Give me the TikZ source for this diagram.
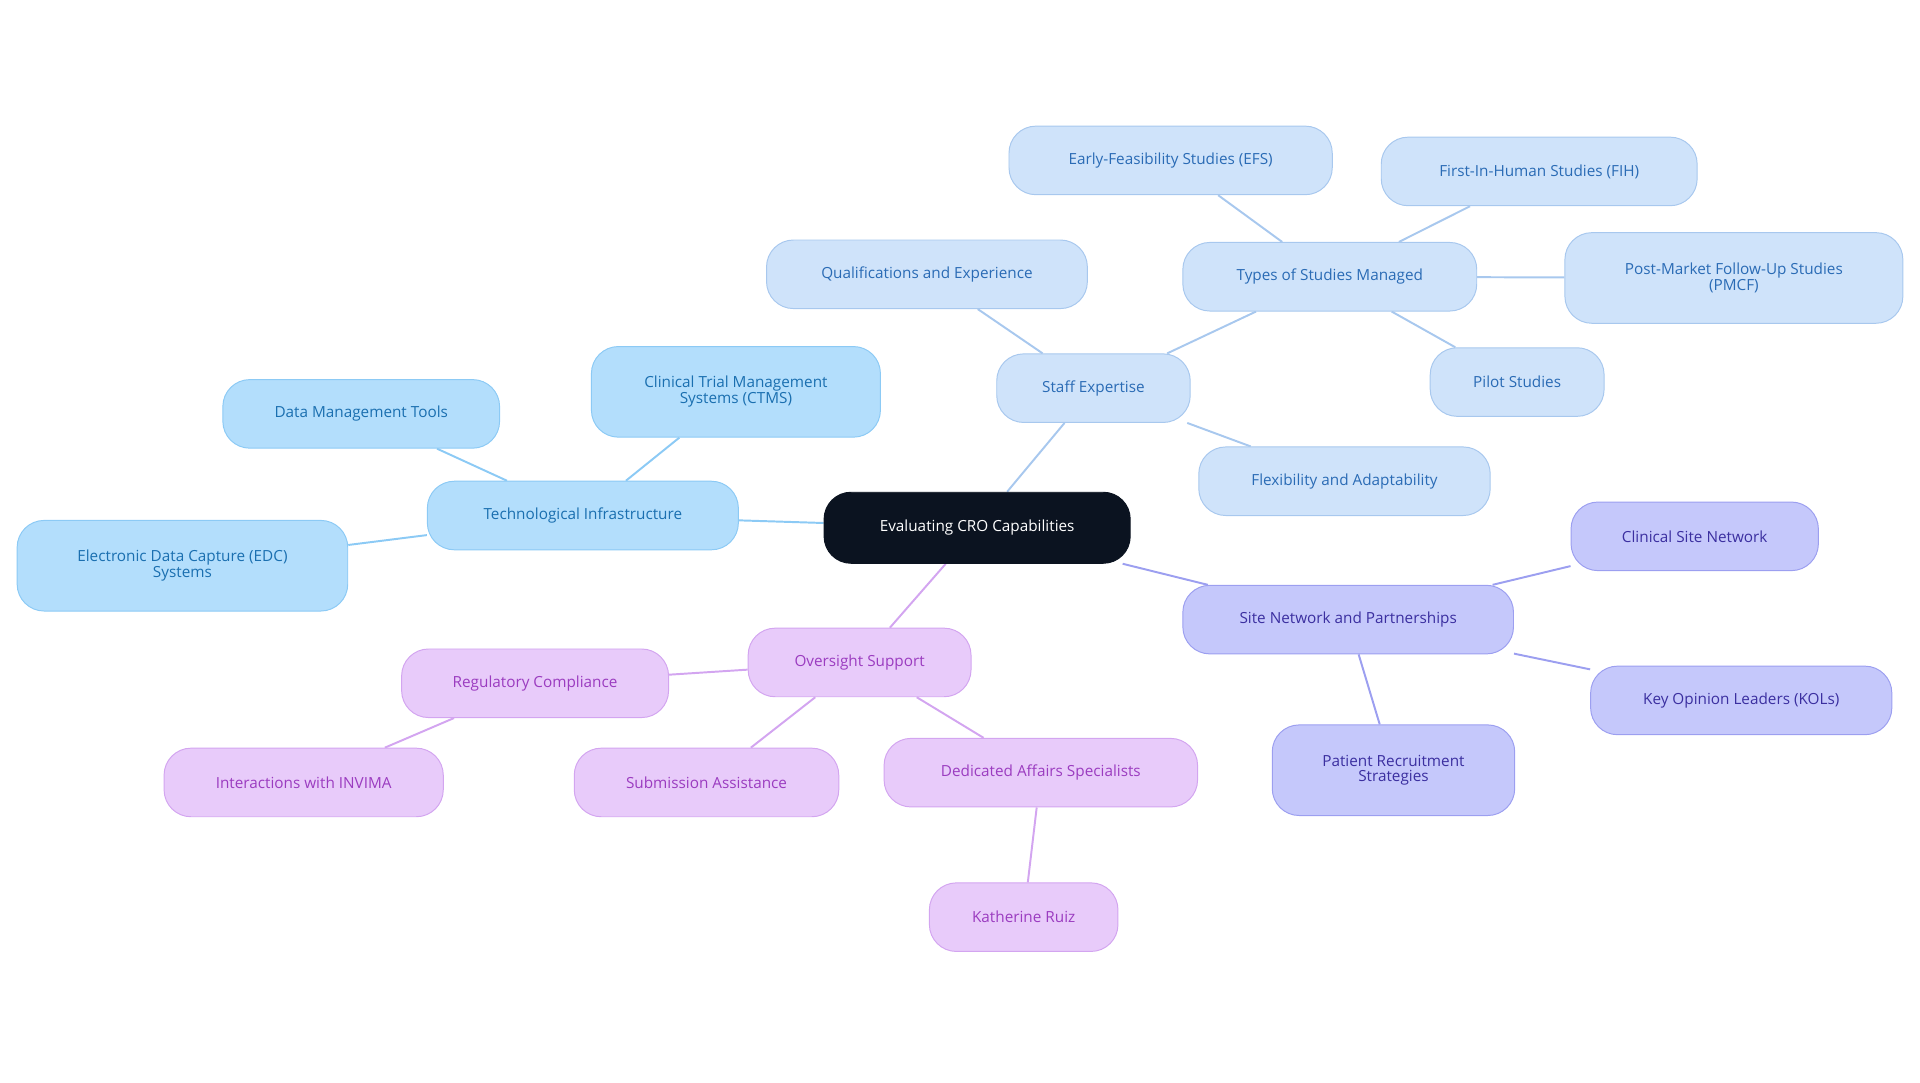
\documentclass[tikz,border=0pt]{standalone}
\usepackage{fontspec}
\setmainfont{Open Sans}
\usetikzlibrary{backgrounds}
\definecolor{tfill}{HTML}{B3DEFC}\definecolor{tdraw}{HTML}{8CCAF5}\definecolor{ttext}{HTML}{1A6FB0}
\definecolor{sfill}{HTML}{CFE3FA}\definecolor{sdraw}{HTML}{A8C8EE}\definecolor{stext}{HTML}{2A6BB5}
\definecolor{nfill}{HTML}{C5C8FB}\definecolor{ndraw}{HTML}{9C9FF0}\definecolor{ntext}{HTML}{3B2FA0}
\definecolor{ofill}{HTML}{E8CBFA}\definecolor{odraw}{HTML}{D3A5F0}\definecolor{otext}{HTML}{9B3CC0}
\definecolor{rootc}{HTML}{0B1320}
\tikzset{
 box/.style={rounded corners=22pt,line width=0.8pt,align=center,font=\fontsize{12.5}{12}\selectfont,inner sep=0pt,minimum height=56pt},
 tb/.style={box,fill=tfill,draw=tdraw,text=ttext},
 sb/.style={box,fill=sfill,draw=sdraw,text=stext},
 nb/.style={box,fill=nfill,draw=ndraw,text=ntext},
 ob/.style={box,fill=ofill,draw=odraw,text=otext},
 te/.style={draw=tdraw,line width=1.6pt},
 se/.style={draw=sdraw,line width=1.6pt},
 ne/.style={draw=ndraw,line width=1.6pt},
 oe/.style={draw=odraw,line width=1.6pt},
}
\begin{document}
\begin{tikzpicture}[x=1pt,y=-1pt]
\useasboundingbox (0,0) rectangle (1568,884);
\node[box,fill=rootc,draw=rootc,text=white,minimum width=250pt,minimum height=58pt] (root) at (798,431) {Evaluating CRO Capabilities};
\node[tb,minimum width=254pt] (tech) at (476,421) {Technological Infrastructure};
\node[tb,minimum width=226pt] (dmt) at (295,338) {Data Management Tools};
\node[tb,minimum width=236pt,minimum height=74pt] (ctms) at (601,320) {Clinical Trial Management\\Systems (CTMS)};
\node[tb,minimum width=270pt,minimum height=74pt] (edc) at (149,462) {Electronic Data Capture (EDC)\\Systems};
\node[sb,minimum width=158pt] (staff) at (893,317) {Staff Expertise};
\node[sb,minimum width=262pt] (qual) at (757,224) {Qualifications and Experience};
\node[sb,minimum width=240pt] (types) at (1086,226) {Types of Studies Managed};
\node[sb,minimum width=264pt] (efs) at (956,131) {Early-Feasibility Studies (EFS)};
\node[sb,minimum width=258pt] (fih) at (1257,140) {First-In-Human Studies (FIH)};
\node[sb,minimum width=276pt,minimum height=74pt] (pmcf) at (1416,227) {Post-Market Follow-Up Studies\\(PMCF)};
\node[sb,minimum width=142pt] (pilot) at (1239,312) {Pilot Studies};
\node[sb,minimum width=238pt] (flex) at (1098,393) {Flexibility and Adaptability};
\node[nb,minimum width=270pt] (site) at (1101,506) {Site Network and Partnerships};
\node[nb,minimum width=202pt] (csn) at (1384,438) {Clinical Site Network};
\node[nb,minimum width=246pt] (kol) at (1422,572) {Key Opinion Leaders (KOLs)};
\node[nb,minimum width=198pt,minimum height=74pt] (prs) at (1138,629) {Patient Recruitment\\Strategies};
\node[ob,minimum width=182pt] (over) at (702,541) {Oversight Support};
\node[ob,minimum width=218pt] (reg) at (437,558) {Regulatory Compliance};
\node[ob,minimum width=228pt] (inv) at (248,639) {Interactions with INVIMA};
\node[ob,minimum width=216pt] (sub) at (577,639) {Submission Assistance};
\node[ob,minimum width=256pt] (ded) at (850,631) {Dedicated Affairs Specialists};
\node[ob,minimum width=154pt] (kat) at (836,749) {Katherine Ruiz};
\begin{scope}[on background layer]
\draw[te] (root) -- (tech); \draw[te] (tech) -- (dmt); \draw[te] (tech) -- (ctms); \draw[te] (tech) -- (edc);
\draw[se] (root) -- (staff); \draw[se] (staff) -- (qual); \draw[se] (staff) -- (types); \draw[se] (staff) -- (flex);
\draw[se] (types) -- (efs); \draw[se] (types) -- (fih); \draw[se] (types) -- (pmcf); \draw[se] (types) -- (pilot);
\draw[ne] (root) -- (site); \draw[ne] (site) -- (csn); \draw[ne] (site) -- (kol); \draw[ne] (site) -- (prs);
\draw[oe] (root) -- (over); \draw[oe] (over) -- (reg); \draw[oe] (reg) -- (inv); \draw[oe] (over) -- (sub); \draw[oe] (over) -- (ded); \draw[oe] (ded) -- (kat);
\end{scope}
\end{tikzpicture}
\end{document}
